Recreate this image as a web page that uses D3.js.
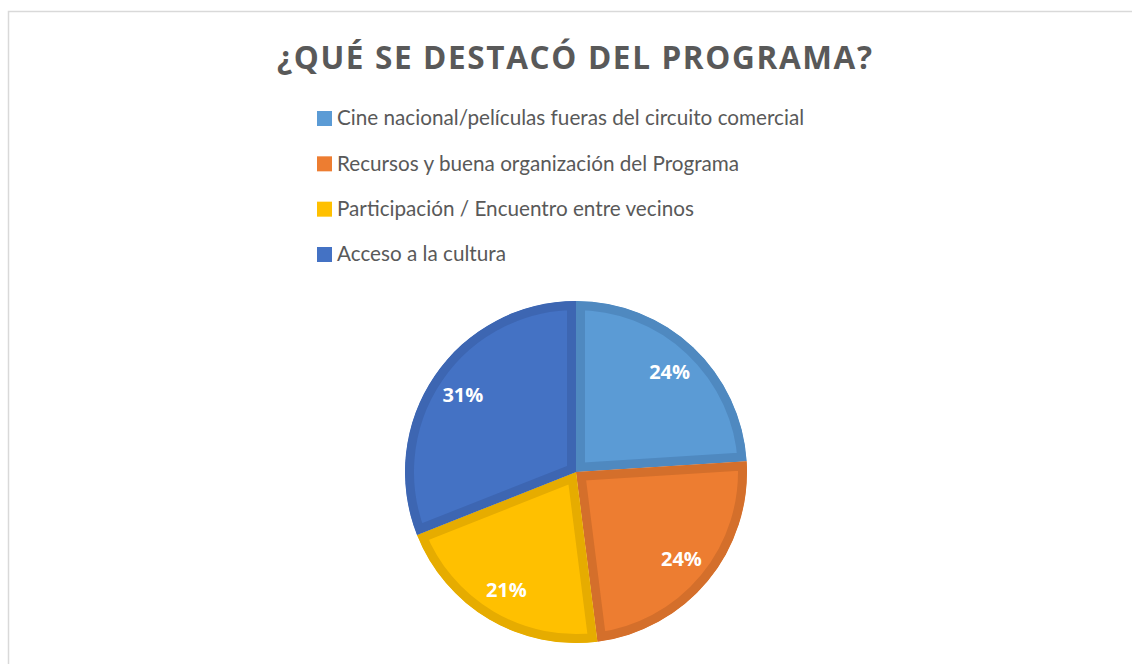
<!DOCTYPE html>
<html><head><meta charset="utf-8">
<script src="https://cdn.jsdelivr.net/npm/d3@7"></script>
<style>body{margin:0;background:#fff}svg{display:block}</style>
</head><body>
<svg id="c" width="1132" height="664"></svg>
<script>
const title = "¿QUÉ SE DESTACÓ DEL PROGRAMA?";
const categories = [
  "Cine nacional/películas fueras del circuito comercial",
  "Recursos y buena organización del Programa",
  "Participación / Encuentro entre vecinos",
  "Acceso a la cultura"
];
const values = [24, 24, 21, 31];
const labels = ["24%", "24%", "21%", "31%"];
const fills = ["#5B9BD5", "#ED7D31", "#FFC000", "#4472C4"];
const borders = ["#4F89C0", "#D46F2B", "#E6AC00", "#3D66B2"];

const svg = d3.select("#c");
svg.append("rect").attr("x", 8.5).attr("y", 11.5).attr("width", 1200).attr("height", 700)
  .attr("fill", "#fff").attr("stroke", "#D9D9D9").attr("stroke-width", 1.5);

const t = svg.append("text").attr("x", 574.5).attr("y", 68.5).attr("text-anchor", "middle")
  .attr("font-family", "'Open Sans', Lato, sans-serif").attr("font-weight", 700)
  .attr("font-size", 31.5).attr("fill", "#595959").text(title);
t.attr("textLength", 595).attr("lengthAdjust", "spacing");

const legend = svg.append("g");
const ly = d3.scalePoint().domain(categories).range([118, 254]);
categories.forEach((c, i) => {
  const g = legend.append("g").attr("transform", `translate(317,${ly(c)})`);
  g.append("rect").attr("x", 0).attr("y", -7).attr("width", 15).attr("height", 15).attr("fill", fills[i]);
  g.append("text").attr("x", 20).attr("y", 0).attr("dy", "0.36em")
    .attr("font-family", "Lato, 'Open Sans', sans-serif").attr("font-size", 20.7)
    .attr("fill", "#595959").text(c);
});

const cx = 576, cy = 472, r = 171;
const pie = d3.pie().sort(null).value(d => d)(values);
const arc = d3.arc().innerRadius(0).outerRadius(r);
const lab = d3.arc().innerRadius(r * 0.8).outerRadius(r * 0.8);
const pg = svg.append("g").attr("transform", `translate(${cx},${cy})`);
const defs = svg.append("defs");
pie.forEach((p, i) => {
  defs.append("clipPath").attr("id", "clip" + i).append("path").attr("d", arc(p));
  pg.append("path").attr("d", arc(p)).attr("fill", fills[i])
    .attr("stroke", borders[i]).attr("stroke-width", 18).attr("stroke-linejoin", "miter")
    .attr("clip-path", `url(#clip${i})`);
});
pie.forEach((p, i) => {
  const [x, y] = lab.centroid(p);
  pg.append("text").attr("x", x).attr("y", y).attr("dy", "0.36em").attr("text-anchor", "middle")
    .attr("font-family", "'Open Sans', Lato, sans-serif").attr("font-weight", 700)
    .attr("font-size", 20).attr("fill", "#fff").text(labels[i]);
});
</script>
</body></html>
